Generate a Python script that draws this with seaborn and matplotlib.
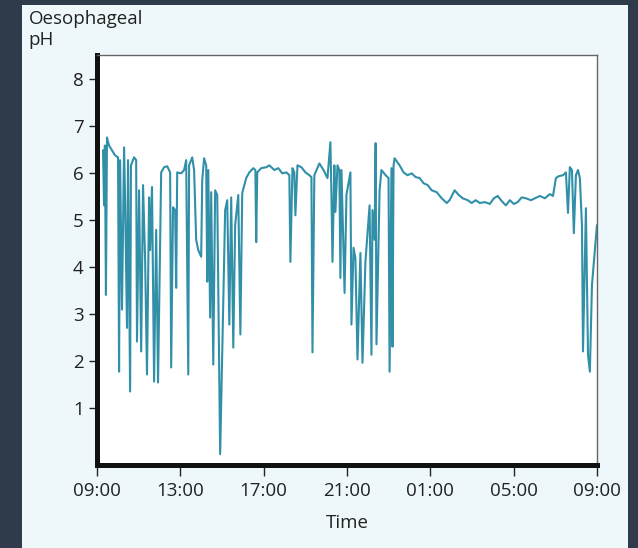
import matplotlib
matplotlib.use('Agg')
import matplotlib.pyplot as plt
import matplotlib.patches as patches
import seaborn as sns
import pandas as pd

# Heures écoulées depuis 09:00 et pH oesophagien
heures = [0.29, 0.34, 0.38, 0.43, 0.48, 0.58, 0.72, 0.87, 1.01, 1.06, 1.11, 1.20, 1.30, 1.35, 1.44, 1.49,
          1.59, 1.63, 1.78, 1.88, 1.92, 2.02, 2.12, 2.21, 2.31, 2.40, 2.50, 2.55, 2.64, 2.74, 2.84, 2.93,
          3.08, 3.22, 3.37, 3.51, 3.56, 3.65, 3.75, 3.80, 3.85, 4.04, 4.18, 4.28, 4.38, 4.42, 4.57, 4.66,
          4.76, 4.86, 5.00, 5.05, 5.14, 5.24, 5.29, 5.34, 5.43, 5.48, 5.58, 5.67, 5.77, 5.91, 6.15, 6.25,
          6.35, 6.44, 6.54, 6.63, 6.78, 6.88, 6.97, 7.16, 7.31, 7.50, 7.60, 7.64, 7.69, 7.88, 8.13, 8.27,
          8.51, 8.70, 8.89, 9.09, 9.23, 9.28, 9.38, 9.47, 9.52, 9.62, 9.81, 10.00, 10.19, 10.29, 10.34, 10.43,
          10.67, 10.87, 11.06, 11.20, 11.25, 11.30, 11.39, 11.44, 11.54, 11.63, 11.68, 11.73, 11.88, 11.97, 12.16, 12.21,
          12.31, 12.40, 12.50, 12.64, 12.74, 12.88, 13.08, 13.17, 13.22, 13.32, 13.37, 13.41, 13.56, 13.65, 13.85, 13.99,
          14.04, 14.13, 14.18, 14.23, 14.28, 14.52, 14.71, 14.90, 15.10, 15.29, 15.48, 15.67, 15.87, 16.06, 16.30, 16.54,
          16.78, 16.92, 17.16, 17.36, 17.55, 17.79, 17.98, 18.17, 18.37, 18.61, 18.85, 19.04, 19.23, 19.42, 19.62, 19.81,
          20.00, 20.19, 20.38, 20.58, 20.82, 21.01, 21.25, 21.49, 21.73, 21.88, 22.02, 22.16, 22.36, 22.50, 22.60, 22.69,
          22.79, 22.88, 22.98, 23.08, 23.17, 23.27, 23.32, 23.46, 23.56, 23.65, 23.75, 23.85, 23.99]
ph = [6.48, 5.31, 6.58, 3.41, 6.75, 6.58, 6.48, 6.37, 6.33, 1.78, 6.27, 3.10, 6.54, 5.42, 2.71, 6.27,
      1.36, 6.16, 6.33, 6.27, 2.42, 5.63, 2.21, 5.74, 4.15, 1.72, 5.48, 4.36, 5.70, 1.57, 4.79, 1.55,
      6.01, 6.12, 6.14, 6.01, 1.87, 5.27, 5.21, 3.56, 6.01, 5.99, 6.06, 6.27, 1.72, 6.16, 6.33, 6.06,
      4.58, 4.36, 4.22, 5.84, 6.31, 6.16, 3.69, 6.06, 2.93, 5.59, 1.93, 5.63, 5.53, 0.03, 5.21, 5.42,
      2.78, 5.48, 2.29, 4.89, 5.53, 2.57, 5.57, 5.89, 6.01, 6.10, 6.06, 4.53, 6.01, 6.10, 6.12, 6.16,
      6.06, 6.10, 5.99, 6.01, 5.95, 4.11, 6.10, 6.01, 5.10, 6.16, 6.12, 6.01, 5.95, 5.91, 2.19, 5.95,
      6.20, 6.06, 5.89, 6.65, 5.53, 4.11, 6.16, 5.17, 6.16, 6.06, 3.77, 6.06, 3.45, 5.53, 6.01, 2.78,
      4.41, 4.19, 2.04, 4.30, 1.97, 4.11, 5.31, 2.14, 5.21, 4.58, 6.63, 2.36, 5.63, 6.06, 5.95, 5.89,
      1.78, 6.10, 2.31, 6.16, 6.31, 6.16, 6.01, 5.95, 5.99, 5.91, 5.89, 5.78, 5.74, 5.63, 5.59, 5.46,
      5.36, 5.42, 5.63, 5.53, 5.46, 5.42, 5.36, 5.42, 5.36, 5.38, 5.34, 5.46, 5.51, 5.40, 5.31, 5.42,
      5.34, 5.38, 5.48, 5.46, 5.42, 5.46, 5.51, 5.46, 5.55, 5.51, 5.89, 5.93, 5.95, 6.01, 5.15, 6.12,
      6.06, 4.72, 5.95, 6.06, 5.89, 4.89, 2.21, 5.25, 2.14, 1.78, 3.62, 4.15, 4.89]

positions_x = [0, 4, 8, 12, 16, 20, 24]
etiquettes_x = ['09:00', '13:00', '17:00', '21:00', '01:00', '05:00', '09:00']
positions_y = [1, 2, 3, 4, 5, 6, 7, 8]

df = pd.DataFrame({'heure': heures, 'ph': ph})

sns.set_theme(style='ticks')
plt.rcParams['font.family'] = ['Open Sans', 'DejaVu Sans']

fig = plt.figure(figsize=(6.38, 5.48), dpi=100)
fig.patch.set_facecolor('#2f3a4a')
# Panneau clair derrière le graphique
fig.patches.append(patches.Rectangle((0.035, 0.0), 0.949, 0.991, transform=fig.transFigure,
                                     facecolor='#eef8fb', edgecolor='none', zorder=-10))

ax = fig.add_axes([0.152, 0.1515, 0.784, 0.748])
ax.set_zorder(1)
ax.set_facecolor('white')
sns.lineplot(data=df, x='heure', y='ph', ax=ax, color='#3190a8', linewidth=1.5,
             estimator=None, sort=False)

ax.set_xlim(0, 24)
ax.set_ylim(-0.2, 8.5)
ax.set_xticks(positions_x)
ax.set_xticklabels(etiquettes_x)
ax.set_yticks(positions_y)
ax.tick_params(axis='both', labelsize=13.5, colors='#222222', length=6, width=1)
ax.tick_params(axis='x', length=8, pad=4)

ax.spines['left'].set_linewidth(3.6)
ax.spines['bottom'].set_linewidth(3.6)
ax.spines['left'].set_color('#111111')
ax.spines['bottom'].set_color('#111111')
ax.spines['top'].set_color('#666666')
ax.spines['right'].set_color('#666666')
ax.spines['top'].set_linewidth(1)
ax.spines['right'].set_linewidth(1)

ax.set_xlabel('Time', fontsize=13.5, color='#222222', labelpad=10)
ax.set_ylabel('')
fig.text(0.045, 0.982, 'Oesophageal\npH', fontsize=13.5, color='#222222', va='top', ha='left',
         linespacing=1.25)

plt.savefig('out.png', dpi=100, facecolor=fig.get_facecolor())
